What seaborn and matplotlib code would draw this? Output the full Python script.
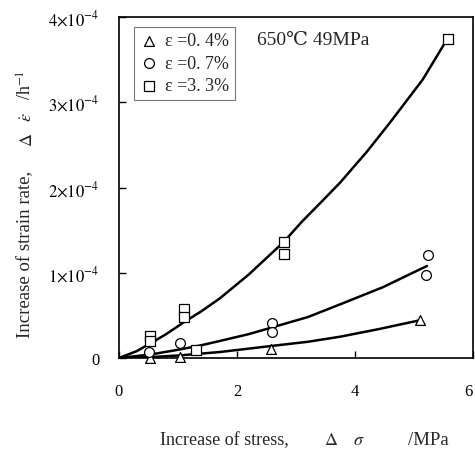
import pandas as pd
import matplotlib
matplotlib.use("Agg")
import matplotlib.pyplot as plt
import seaborn as sns

# measured points (stress increase in MPa, strain rate increase in 1e-4 /h)
tri_x = [0.52, 1.03, 2.57, 5.10]
tri_y = [0.00, 0.01, 0.11, 0.45]
cir_x = [0.51, 1.03, 2.60, 2.60, 5.20, 5.23]
cir_y = [0.07, 0.18, 0.41, 0.30, 0.97, 1.21]
sq_x = [0.53, 0.53, 1.10, 1.10, 1.30, 2.79, 2.79, 5.57]
sq_y = [0.26, 0.20, 0.57, 0.48, 0.09, 1.36, 1.22, 3.74]

# fitted curves
tri_cx = [0.0, 0.53, 1.03, 1.71, 2.57, 3.2, 3.75, 4.41, 5.08]
tri_cy = [0.0, 0.01, 0.03, 0.07, 0.14, 0.19, 0.25, 0.34, 0.44]
cir_cx = [0.0, 0.53, 1.03, 1.4, 1.71, 2.2, 2.60, 3.2, 3.75, 4.47, 5.22]
cir_cy = [0.0, 0.04, 0.10, 0.15, 0.20, 0.28, 0.36, 0.48, 0.63, 0.83, 1.08]
sq_cx = [0.0, 0.3, 0.53, 0.8, 1.10, 1.4, 1.71, 2.2, 2.79, 3.1, 3.47, 3.75,
         4.2, 4.59, 5.15, 5.56]
sq_cy = [0.0, 0.08, 0.17, 0.28, 0.42, 0.55, 0.70, 0.98, 1.36, 1.60, 1.86,
         2.06, 2.42, 2.76, 3.27, 3.74]

labels = ["ε =0. 4%", "ε =0. 7%", "ε =3. 3%"]
x_ticks = [0, 2, 4, 6]
y_ticks = [0, 1, 2, 3, 4]
y_tick_labels = ["0", r"$1{\times}10^{-4}$", r"$2{\times}10^{-4}$",
                 r"$3{\times}10^{-4}$", r"$4{\times}10^{-4}$"]

sns.set_style("white")
plt.rcParams["font.family"] = ["Liberation Serif", "DejaVu Serif", "Noto Sans CJK SC"]
plt.rcParams["mathtext.fontset"] = "stix"

W, H = 475, 452
fig = plt.figure(figsize=(4.75, 4.52), dpi=100)
ax = fig.add_axes([0.2505, 0.2058, 0.7453, 0.754])

series = [
    (tri_x, tri_y, tri_cx, tri_cy, "^", labels[0]),
    (cir_x, cir_y, cir_cx, cir_cy, "o", labels[1]),
    (sq_x, sq_y, sq_cx, sq_cy, "s", labels[2]),
]
for px, py, cx, cy, mk, lab in series:
    sns.lineplot(x=cx, y=cy, ax=ax, color="black", linewidth=1.8, zorder=2)
    sns.scatterplot(x=px, y=py, ax=ax, marker=mk, s=50, facecolor="white",
                    edgecolor="black", linewidth=0.9, label=lab, zorder=3,
                    clip_on=False)

ax.set_xlim(0, 6)
ax.set_ylim(0, 4)
ax.set_xticks(x_ticks)
ax.set_xticklabels([str(t) for t in x_ticks])
ax.set_yticks(y_ticks)
ax.set_yticklabels(y_tick_labels)
ax.tick_params(direction="in", length=5, width=1, colors="black",
               labelsize=12, bottom=True, left=True)
ax.tick_params(axis="x", pad=18)
ax.tick_params(axis="y", pad=14)
ax.get_xticklabels()[-1].set_horizontalalignment("right")
for sp in ax.spines.values():
    sp.set_color("black")
    sp.set_linewidth(1.2)
ax.set_xlabel("")
ax.set_ylabel("")

# x axis title, spaced out like the original
fig.text(160 / W, 1 - 441 / H, "Increase of stress,", fontsize=13,
         ha="left", va="center")
fig.text(331 / W, 1 - 441 / H, r"$\mathit{\Delta}$", fontsize=13,
         ha="center", va="center")
fig.text(359 / W, 1 - 441 / H, r"$\mathit{\sigma}$", fontsize=13,
         ha="center", va="center")
fig.text(408 / W, 1 - 441 / H, "/MPa", fontsize=13.5, ha="left", va="center")

# y axis title
fig.text(26 / W, 1 - 338 / H, "Increase of strain rate,", fontsize=13.5,
         ha="center", va="bottom", rotation=90)
fig.text(28 / W, 1 - 140 / H, r"$\mathit{\Delta}$", fontsize=13,
         ha="center", va="center", rotation=90)
fig.text(28 / W, 1 - 117 / H, r"$\dot{\varepsilon}$", fontsize=13,
         ha="center", va="center", rotation=90)
fig.text(26 / W, 1 - 100 / H, r"/h$^{-1}$", fontsize=13,
         ha="center", va="bottom", rotation=90)

ax.text(0.389, 0.935, "650℃ 49MPa", transform=ax.transAxes, fontsize=14,
        va="center", ha="left")

leg = ax.legend(loc="upper left", bbox_to_anchor=(0.042, 0.971), frameon=True,
                fancybox=False, edgecolor="#555555", fontsize=13,
                handletextpad=0.35, borderpad=0.3, labelspacing=0.3,
                handlelength=1.1, borderaxespad=0)
leg.get_frame().set_linewidth(0.8)

fig.savefig("out.png", dpi=100)
